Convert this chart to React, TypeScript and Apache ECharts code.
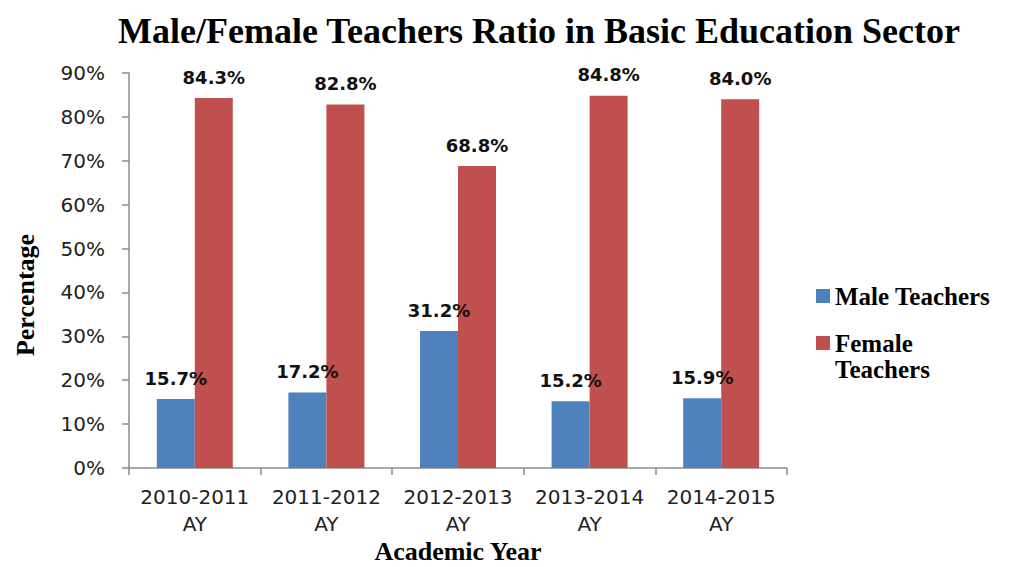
import React, { useEffect, useRef } from "react";
import * as echarts from "echarts";

const categories = ["2010-2011\nAY", "2011-2012\nAY", "2012-2013\nAY", "2013-2014\nAY", "2014-2015\nAY"];
const maleValues = [15.7, 17.2, 31.2, 15.2, 15.9];
const femaleValues = [84.3, 82.8, 68.8, 84.8, 84.0];
const seriesNames = ["Male Teachers", "Female Teachers"];
const titleText = "Male/Female Teachers Ratio in Basic Education Sector";

const SERIF = "'Liberation Serif', 'Times New Roman', serif";
const SANS = "'DejaVu Sans', Verdana, sans-serif";

export default function App() {
  const ref = useRef<HTMLDivElement>(null);
  useEffect(() => {
    document.body.style.margin = "0";
    const chart = echarts.init(ref.current!, null, { renderer: "svg" });
    const labelOpt = {
      show: true,
      position: "top",
      distance: 12,
      fontFamily: SANS,
      fontWeight: "bold",
      fontSize: 18,
      color: "#111",
      formatter: (p: any) => Number(p.value).toFixed(1) + "%",
    };
    const legendText = { fontFamily: SERIF, fontWeight: "bold", fontSize: 25, lineHeight: 24, color: "#000" };
    chart.setOption({
      animation: false,
      backgroundColor: "#fff",
      title: {
        text: titleText,
        left: 534,
        top: 8,
        textAlign: "center",
        textStyle: { fontFamily: SERIF, fontWeight: "bold", fontSize: 36, color: "#000" },
      },
      legend: [
        {
          data: [seriesNames[0]],
          orient: "vertical",
          left: 816,
          top: 283.5,
          padding: 0,
          itemWidth: 14,
          itemHeight: 14,
          icon: "rect",
          textStyle: legendText,
        },
        {
          data: [seriesNames[1]],
          orient: "vertical",
          left: 816,
          top: 330.5,
          padding: 0,
          itemWidth: 14,
          itemHeight: 14,
          icon: "rect",
          formatter: () => "Female",
          textStyle: legendText,
        },
      ],
      grid: { left: 129, right: 231, top: 73, bottom: 99, containLabel: false, outerBoundsMode: "none" },
      xAxis: {
        type: "category",
        data: categories,
        boundaryGap: true,
        name: "Academic Year",
        nameLocation: "middle",
        nameGap: 70,
        nameMoveOverlap: false,
        nameTextStyle: { fontFamily: SERIF, fontWeight: "bold", fontSize: 26, color: "#000" },
        axisLine: { lineStyle: { color: "#8c8c8c", width: 1.5 } },
        axisTick: { show: true, length: 7, alignWithLabel: false, lineStyle: { color: "#8c8c8c", width: 1.5 } },
        axisLabel: { fontFamily: SANS, fontSize: 20, color: "#222", lineHeight: 27, margin: 15, interval: 0 },
      },
      yAxis: {
        type: "value",
        min: 0,
        max: 90,
        interval: 10,
        axisLine: { show: true, lineStyle: { color: "#8c8c8c", width: 1.5 } },
        axisTick: { show: true, length: 7, lineStyle: { color: "#8c8c8c", width: 1.5 } },
        splitLine: { show: false },
        axisLabel: { formatter: "{value}%", fontFamily: SANS, fontSize: 20, color: "#222", margin: 24 },
      },
      graphic: [
        {
          type: "text",
          x: 25,
          y: 295,
          rotation: Math.PI / 2,
          style: {
            text: "Percentage",
            fontFamily: SERIF,
            fontWeight: "bold",
            fontSize: 26,
            fill: "#000",
            align: "center",
            verticalAlign: "middle",
          },
        },
        {
          type: "text",
          x: 835,
          y: 369,
          style: {
            text: "Teachers",
            fontFamily: SERIF,
            fontWeight: "bold",
            fontSize: 25,
            lineHeight: 24,
            fill: "#000",
            align: "left",
            verticalAlign: "middle",
          },
        },
      ],
      series: [
        {
          name: seriesNames[0],
          type: "bar",
          data: maleValues,
          barWidth: 38,
          barGap: "0%",
          itemStyle: { color: "#4F81BD" },
          label: labelOpt,
        },
        {
          name: seriesNames[1],
          type: "bar",
          data: femaleValues,
          barWidth: 38,
          barGap: "0%",
          itemStyle: { color: "#C0504D" },
          label: labelOpt,
        },
      ],
    });
    return () => chart.dispose();
  }, []);
  return <div ref={ref} style={{ width: 1018, height: 567 }} />;
}
